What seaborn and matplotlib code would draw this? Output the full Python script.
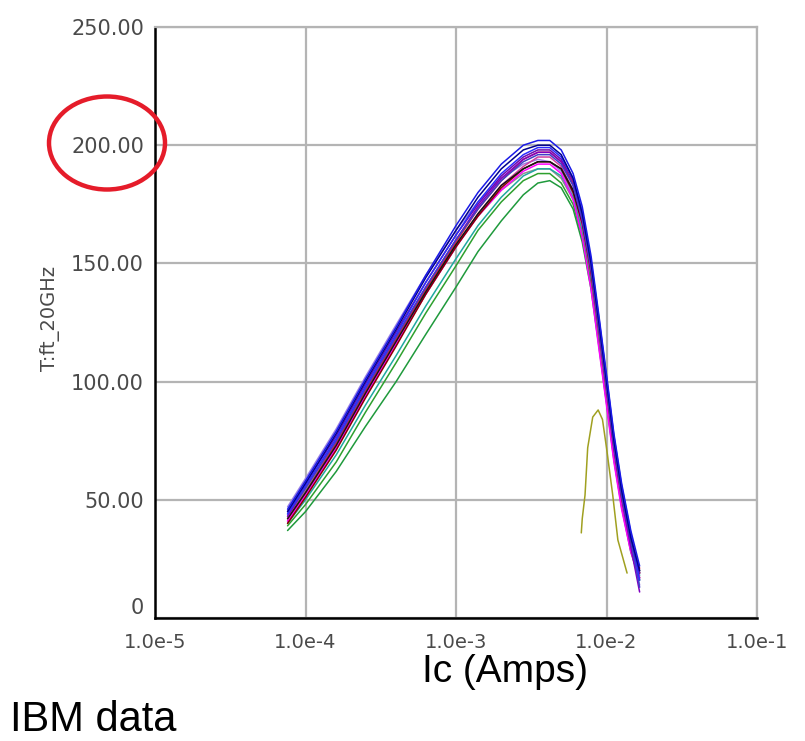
import numpy as np
import pandas as pd
import matplotlib
matplotlib.use("Agg")
import matplotlib.pyplot as plt
from matplotlib.patches import Ellipse
import seaborn as sns

# ---------------- data ----------------
ic_grid = [7.6e-5, 1.0e-4, 1.6e-4, 2.5e-4, 4.0e-4, 6.3e-4, 1.0e-3, 1.4e-3, 2.0e-3,
           2.8e-3, 3.5e-3, 4.2e-3, 5.0e-3, 6.0e-3, 6.9e-3, 7.9e-3, 8.9e-3, 1.0e-2,
           1.12e-2, 1.26e-2, 1.45e-2, 1.66e-2]

ft_blue_top  = [46, 58, 79, 101, 123, 145, 166, 180, 192, 200, 202, 202, 198, 188, 174, 153, 128, 103, 78, 57, 37, 22]
ft_navy      = [45, 57, 78, 100, 122, 144, 164, 178, 190, 198, 200, 200, 196, 186, 171, 150, 125, 100, 75, 54, 34, 20]
ft_blue      = [44, 56, 76, 98, 120, 142, 162, 176, 188, 196, 199, 199, 195, 186, 172, 151, 127, 102, 77, 56, 36, 16]
ft_purple    = [43, 55, 75, 97, 119, 140, 160, 174, 186, 194, 197, 197, 193, 183, 168, 147, 122, 97, 72, 51, 30, 11]
ft_magenta   = [41, 52, 72, 94, 116, 137, 157, 170, 181, 189, 192, 192, 188, 177, 161, 139, 114, 90, 66, 46, 28, 17]
ft_crimson   = [42, 53, 74, 96, 118, 139, 159, 173, 185, 194, 197, 197, 193, 184, 170, 149, 125, 100, 75, 54, 34, 21]
ft_maroon    = [40, 51, 71, 93, 115, 137, 157, 170, 182, 190, 193, 193, 190, 180, 167, 146, 122, 97, 72, 51, 32, 19]
ft_black     = [42, 53, 73, 95, 117, 138, 158, 171, 183, 190, 193, 193, 190, 181, 168, 148, 124, 99, 74, 53, 33, 20]
ft_lavender  = [47, 59, 80, 102, 124, 145, 164, 176, 186, 192, 194, 193, 189, 179, 164, 143, 119, 94, 69, 49, 30, 14]
ft_gray      = [43, 54, 74, 96, 118, 139, 158, 170, 181, 188, 190, 190, 186, 177, 163, 142, 118, 94, 70, 50, 31, 19]
ft_teal      = [40, 50, 69, 90, 111, 132, 152, 166, 178, 187, 190, 190, 187, 178, 164, 143, 119, 95, 70, 50, 31, 18]
ft_green     = [39, 48, 66, 87, 108, 129, 149, 164, 176, 185, 188, 188, 184, 175, 161, 141, 117, 92, 68, 48, 29, 17]
ft_green_low = [37, 45, 62, 81, 100, 120, 140, 155, 168, 179, 184, 185, 182, 173, 159, 139, 115, 91, 67, 47, 28, 16]
ft_violet    = [45, 57, 77, 99, 121, 142, 162, 175, 187, 195, 198, 198, 194, 185, 171, 150, 126, 101, 76, 55, 35, 19]
ft_pink      = [41, 52, 72, 94, 116, 137, 157, 171, 183, 191, 195, 195, 191, 181, 166, 145, 120, 95, 70, 49, 30, 17]
ft_bluevio   = [44, 55, 75, 97, 119, 140, 160, 173, 185, 193, 196, 196, 192, 183, 169, 148, 123, 98, 73, 52, 33, 13]

ic_olive = [6.8e-3, 6.9e-3, 7.2e-3, 7.5e-3, 8.1e-3, 8.8e-3, 9.4e-3, 1.0e-2, 1.1e-2, 1.19e-2, 1.37e-2]
ft_olive = [36, 42, 52, 72, 85, 88, 84, 72, 52, 33, 19]

curves = {
    "lavender": ft_lavender, "gray": ft_gray, "teal": ft_teal, "green": ft_green,
    "green_low": ft_green_low, "pink": ft_pink, "magenta": ft_magenta,
    "maroon": ft_maroon, "crimson": ft_crimson, "black": ft_black,
    "violet": ft_violet, "purple": ft_purple, "bluevio": ft_bluevio,
    "blue": ft_blue, "navy": ft_navy, "blue_top": ft_blue_top,
}
colors = {
    "blue_top": "#1a1ae6", "navy": "#00008b", "blue": "#2b2bff", "purple": "#8000c0",
    "magenta": "#ff00ff", "crimson": "#e0203a", "maroon": "#8b0000", "black": "#151515",
    "lavender": "#9a80e6", "gray": "#909090", "teal": "#20a8a0", "green": "#2ea02e",
    "green_low": "#1f9a3c", "violet": "#6a0dad", "pink": "#d040a0", "bluevio": "#4040c8",
    "olive": "#a0a020",
}

x_ticks = [1e-5, 1e-4, 1e-3, 1e-2, 1e-1]
x_ticklabels = ["1.0e-5", "1.0e-4", "1.0e-3", "1.0e-2", "1.0e-1"]
y_ticks = [0, 50, 100, 150, 200, 250]
y_ticklabels = ["0", "50.00", "100.00", "150.00", "200.00", "250.00"]

rows = []
for name, vals in curves.items():
    for x, y in zip(ic_grid, vals):
        rows.append((name, x, y))
for x, y in zip(ic_olive, ft_olive):
    rows.append(("olive", x, y))
df = pd.DataFrame(rows, columns=["curve", "Ic", "ft"])

# ---------------- plot ----------------
sns.set_style("white")
plt.rcParams["font.family"] = ["DejaVu Sans"]

fig = plt.figure(figsize=(8.05, 7.41), dpi=100)
ax = fig.add_axes([155/805, 1-618/741, (757-155)/805, (618-27)/741])

sns.lineplot(data=df, x="Ic", y="ft", hue="curve", palette=colors,
             estimator=None, units="curve", sort=False, linewidth=1.1,
             legend=False, ax=ax)

ax.set_xscale("log")
ax.set_xlim(1e-5, 1e-1)
ax.set_ylim(0, 250)
ax.set_xticks(x_ticks)
ax.set_xticklabels(x_ticklabels)
ax.minorticks_off()
ax.set_yticks(y_ticks)
ax.set_yticklabels(y_ticklabels)
ax.grid(True, color="#b4b4b4", linewidth=1.6)
ax.set_axisbelow(True)

for s in ["top", "right"]:
    ax.spines[s].set_color("#b4b4b4")
    ax.spines[s].set_linewidth(1.6)
for s in ["left", "bottom"]:
    ax.spines[s].set_color("black")
    ax.spines[s].set_linewidth(1.8)

ax.tick_params(axis="both", direction="in", length=5, width=1.5, color="black",
               labelsize=15, labelcolor="#4a4a4a", pad=8)
ax.tick_params(axis="x", labelsize=14, pad=11)
# keep the "0" label clear of the x tick labels
ax.get_yticklabels()[0].set_verticalalignment("bottom")

ax.set_ylabel("T:ft_20GHz", fontsize=14, color="#4a4a4a")
ax.yaxis.set_label_coords((50-155)/602, 0.507)
ax.yaxis.label.set_verticalalignment("center")
ax.set_xlabel("Ic (Amps)", fontsize=28, family=["Liberation Sans", "DejaVu Sans"], color="black")
ax.xaxis.set_label_coords((505-155)/602, (618-672)/591)
ax.xaxis.label.set_verticalalignment("center")

fig.text(10/805, 1-720/741, "IBM data", fontsize=30, family=["Liberation Sans", "DejaVu Sans"],
         ha="left", va="center", color="black")

ell = Ellipse((107/805, 1-143/741), 116/805, 93/741, transform=fig.transFigure,
              fill=False, edgecolor="#e51c2a", linewidth=3.2, clip_on=False)
fig.add_artist(ell)

fig.savefig("out.png", dpi=100)
